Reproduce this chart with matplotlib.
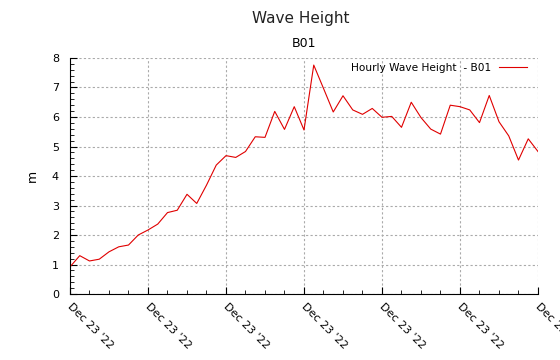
import matplotlib
matplotlib.use("Agg")
from matplotlib import pyplot as plt
from matplotlib.ticker import MultipleLocator

# wave height readings, buoy B01 (m)
heights = [0.92, 1.30, 1.12, 1.18, 1.43, 1.60, 1.66, 2.00,
           2.17, 2.37, 2.76, 2.84, 3.38, 3.07, 3.69, 4.37,
           4.69, 4.63, 4.83, 5.33, 5.31, 6.19, 5.58, 6.35,
           5.56, 7.76, 6.97, 6.17, 6.72, 6.24, 6.09, 6.29,
           5.99, 6.02, 5.65, 6.50, 5.98, 5.59, 5.42, 6.40,
           6.35, 6.24, 5.81, 6.73, 5.84, 5.36, 4.54, 5.26,
           4.83]
tick_pos = [0, 8, 16, 24, 32, 40, 48]
tick_labels = ["Dec 23 '22"] * 7

fig = plt.figure(figsize=(5.6, 3.6), dpi=100)
ax = fig.add_axes([0.125, 0.1833, 0.8357, 0.6556])

x = list(range(len(heights)))
ax.plot(x, heights, color="#e00000", lw=0.8, label="Hourly Wave Height  - B01")

ax.set_xlim(0, 48)
ax.set_ylim(0, 8)
ax.set_xticks(tick_pos)
ax.set_xticklabels(tick_labels, rotation=-45, ha="left", va="center_baseline",
                   rotation_mode="anchor", fontsize=8)
ax.xaxis.set_minor_locator(MultipleLocator(2))
ax.yaxis.set_major_locator(MultipleLocator(1))
ax.yaxis.set_minor_locator(MultipleLocator(0.2))
ax.tick_params(axis="both", which="both", direction="in", labelsize=8)
ax.tick_params(which="major", length=5)
ax.tick_params(which="minor", length=3)
ax.tick_params(axis="y", pad=8)
ax.tick_params(axis="x", pad=7)

ax.grid(True, which="major", color="#aaaaaa", linestyle=(0, (2, 2)), lw=0.8)
ax.spines["top"].set_visible(False)
ax.spines["right"].set_visible(False)
ax.set_ylabel("m", fontsize=9, labelpad=9)

fig.text(0.537, 0.95, "Wave Height", ha="center", va="center", fontsize=11, color="#222222")
ax.set_title("B01", fontsize=9, pad=8)

ax.legend(loc="upper right", bbox_to_anchor=(0.985, 0.998), frameon=False,
          markerfirst=False, fontsize=7.6, handlelength=2.6, borderaxespad=0.0)

fig.savefig("out.png", dpi=100)
